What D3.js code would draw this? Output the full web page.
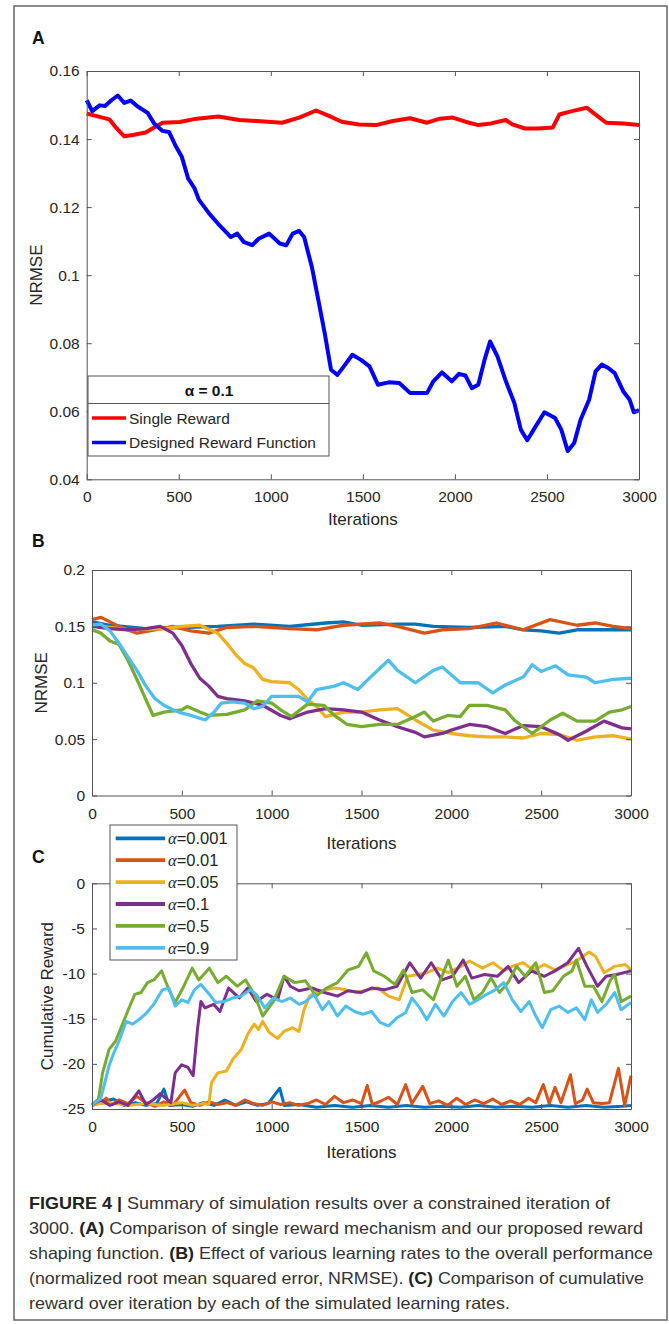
<!DOCTYPE html>
<html>
<head>
<meta charset="utf-8">
<script src="https://cdn.jsdelivr.net/npm/d3@7"></script>
<style>
  body { margin: 0; background: #fff; }
  text { font-family: "Liberation Sans", Arial, sans-serif; }
</style>
</head>
<body>
<svg id="fig" width="669" height="1324"></svg>
<script>
// ---- data: [iteration, value] ----
const iterTicks = [0, 500, 1000, 1500, 2000, 2500, 3000];
const nrmseTicksA = [0.04, 0.06, 0.08, 0.1, 0.12, 0.14, 0.16];
const nrmseTicksB = [0, 0.05, 0.1, 0.15, 0.2];
const rewardTicks = [-25, -20, -15, -10, -5, 0];

const singleReward = [[0,0.1475],[65,0.1466],[123,0.1458],[158,0.1434],[204,0.1408],[250,0.1412],[320,0.1419],[366,0.1434],[412,0.1448],[505,0.145],[598,0.146],[714,0.1466],[829,0.1456],[922,0.1453],[1061,0.1448],[1154,0.1463],[1246,0.1484],[1316,0.1468],[1385,0.1451],[1478,0.1443],[1571,0.1441],[1663,0.1453],[1756,0.1461],[1849,0.1448],[1918,0.146],[1988,0.1463],[2057,0.1451],[2127,0.1441],[2196,0.1446],[2277,0.1456],[2312,0.1443],[2381,0.1431],[2451,0.1431],[2532,0.1434],[2567,0.1472],[2636,0.1482],[2717,0.1492],[2752,0.1477],[2822,0.1448],[2914,0.1446],[3000,0.1441]];
const designedReward = [[0,0.1514],[30,0.1482],[70,0.1499],[100,0.1497],[134,0.1514],[169,0.1528],[204,0.1506],[239,0.1513],[273,0.1497],[331,0.1477],[366,0.1446],[412,0.1424],[447,0.1421],[482,0.1381],[517,0.1347],[551,0.1284],[586,0.1255],[609,0.1222],[667,0.118],[714,0.1151],[783,0.1112],[818,0.1122],[852,0.1098],[899,0.1088],[934,0.1107],[991,0.1122],[1049,0.1093],[1084,0.1088],[1119,0.1122],[1154,0.113],[1181,0.1112],[1223,0.1024],[1258,0.0927],[1293,0.0829],[1327,0.0722],[1362,0.0707],[1397,0.0732],[1443,0.0766],[1490,0.0751],[1536,0.0732],[1582,0.0678],[1640,0.0685],[1698,0.0683],[1756,0.0654],[1849,0.0654],[1883,0.0688],[1930,0.0714],[1983,0.0688],[2022,0.071],[2057,0.0705],[2092,0.0668],[2127,0.0678],[2161,0.0751],[2191,0.0805],[2231,0.0761],[2277,0.0688],[2323,0.0624],[2358,0.0546],[2393,0.0515],[2428,0.0546],[2486,0.0597],[2544,0.058],[2578,0.0546],[2613,0.0483],[2648,0.0507],[2683,0.0576],[2729,0.0634],[2764,0.0717],[2798,0.0737],[2833,0.0727],[2868,0.0712],[2914,0.0659],[2949,0.0634],[2972,0.0597],[3000,0.0603]];

const rates = ["0.001", "0.01", "0.05", "0.1", "0.5", "0.9"];
const rateColors = ["#0072BD", "#D95319", "#EDB120", "#7E2F8E", "#77AC30", "#4DBEEE"];

const nrmse001 = [[0,0.154],[100,0.151],[300,0.148],[500,0.149],[700,0.150],[900,0.152],[1100,0.150],[1300,0.153],[1400,0.154],[1500,0.151],[1700,0.152],[1800,0.152],[1900,0.150],[2100,0.149],[2300,0.150],[2400,0.147],[2500,0.146],[2600,0.144],[2700,0.147],[2800,0.147],[2900,0.147],[3000,0.147]];
const nrmse01 = [[0,0.156],[50,0.158],[150,0.150],[250,0.144],[350,0.147],[450,0.150],[550,0.146],[650,0.144],[750,0.149],[900,0.150],[1100,0.148],[1250,0.147],[1400,0.151],[1600,0.153],[1700,0.150],[1850,0.144],[1950,0.147],[2100,0.148],[2250,0.153],[2400,0.147],[2550,0.156],[2700,0.151],[2800,0.153],[2900,0.150],[3000,0.148]];
const nrmse05 = [[0,0.151],[200,0.147],[400,0.148],[500,0.150],[600,0.151],[700,0.144],[750,0.135],[800,0.125],[850,0.117],[900,0.113],[950,0.103],[1000,0.101],[1100,0.100],[1150,0.094],[1200,0.085],[1250,0.079],[1300,0.070],[1400,0.074],[1500,0.074],[1600,0.076],[1700,0.077],[1800,0.067],[1900,0.058],[2000,0.055],[2100,0.053],[2200,0.052],[2300,0.052],[2400,0.051],[2500,0.055],[2600,0.054],[2700,0.049],[2800,0.052],[2900,0.053],[3000,0.050]];
const nrmse1 = [[0,0.150],[100,0.148],[200,0.147],[300,0.148],[380,0.150],[450,0.144],[500,0.133],[550,0.117],[600,0.104],[650,0.097],[700,0.088],[750,0.086],[850,0.084],[950,0.080],[1050,0.071],[1100,0.068],[1200,0.074],[1300,0.077],[1400,0.076],[1500,0.074],[1600,0.067],[1700,0.061],[1800,0.056],[1850,0.052],[1950,0.055],[2000,0.058],[2100,0.063],[2200,0.061],[2300,0.055],[2400,0.062],[2500,0.061],[2600,0.054],[2650,0.049],[2750,0.057],[2850,0.066],[2950,0.060],[3000,0.059]];
const nrmse5 = [[0,0.147],[50,0.144],[100,0.137],[150,0.134],[200,0.120],[250,0.103],[300,0.085],[340,0.071],[400,0.074],[500,0.076],[530,0.079],[600,0.074],[650,0.071],[750,0.072],[850,0.076],[920,0.084],[1000,0.082],[1050,0.076],[1110,0.070],[1200,0.081],[1290,0.080],[1350,0.071],[1420,0.063],[1500,0.061],[1600,0.063],[1700,0.063],[1800,0.070],[1850,0.074],[1900,0.066],[1980,0.071],[2050,0.070],[2100,0.080],[2200,0.080],[2300,0.076],[2350,0.067],[2450,0.055],[2500,0.061],[2550,0.067],[2620,0.073],[2700,0.066],[2800,0.066],[2880,0.074],[2950,0.076],[3000,0.079]];
const nrmse9 = [[0,0.151],[50,0.152],[100,0.146],[150,0.135],[200,0.123],[250,0.111],[300,0.097],[350,0.086],[400,0.080],[450,0.076],[500,0.073],[550,0.071],[630,0.067],[680,0.074],[720,0.082],[780,0.083],[850,0.082],[900,0.077],[950,0.079],[1000,0.088],[1100,0.088],[1150,0.088],[1200,0.083],[1250,0.094],[1350,0.097],[1400,0.100],[1480,0.094],[1550,0.105],[1650,0.120],[1700,0.111],[1800,0.100],[1900,0.111],[1950,0.114],[2050,0.100],[2150,0.100],[2230,0.091],[2300,0.098],[2400,0.105],[2450,0.116],[2500,0.110],[2580,0.115],[2650,0.107],[2750,0.105],[2800,0.100],[2900,0.103],[3000,0.104]];

const reward001 = [[0,-24.6],[60,-24.2],[120,-23.9],[180,-24.6],[240,-24.3],[300,-24.6],[360,-24.4],[400,-22.8],[430,-24.6],[500,-24.5],[560,-24.7],[620,-24.3],[680,-24.6],[740,-24.0],[800,-24.6],[860,-24.2],[920,-24.6],[980,-24.4],[1045,-22.7],[1070,-24.6],[1150,-24.5],[1250,-24.8],[1350,-24.6],[1450,-24.8],[1550,-24.6],[1650,-24.8],[1750,-24.6],[1850,-24.8],[1950,-24.7],[2050,-24.8],[2150,-24.6],[2250,-24.8],[2350,-24.7],[2450,-24.8],[2550,-24.6],[2650,-24.8],[2750,-24.6],[2850,-24.8],[2950,-24.7],[3000,-24.6]];
const reward01 = [[0,-24.6],[50,-24.3],[80,-23.8],[110,-24.5],[150,-24.0],[200,-24.4],[250,-23.6],[300,-24.3],[350,-24.7],[400,-24.2],[450,-24.6],[515,-22.9],[550,-24.3],[600,-24.6],[650,-24.2],[700,-24.5],[750,-24.3],[800,-24.6],[850,-24.0],[900,-24.4],[950,-24.6],[1000,-24.2],[1050,-24.5],[1100,-24.3],[1150,-24.6],[1200,-24.4],[1250,-24.0],[1300,-24.5],[1350,-23.6],[1400,-24.3],[1450,-24.0],[1500,-24.4],[1532,-22.4],[1560,-24.5],[1600,-24.2],[1650,-23.7],[1700,-24.5],[1746,-22.3],[1780,-24.4],[1841,-22.5],[1880,-24.4],[1930,-24.1],[1980,-24.6],[2030,-23.8],[2080,-24.5],[2130,-24.0],[2180,-24.4],[2230,-23.9],[2280,-24.5],[2330,-24.1],[2380,-24.5],[2430,-23.8],[2470,-24.3],[2512,-22.3],[2545,-24.4],[2577,-22.6],[2610,-24.3],[2663,-21.2],[2690,-24.4],[2730,-24.0],[2756,-22.8],[2790,-24.3],[2840,-24.4],[2880,-24.3],[2930,-20.5],[2965,-24.6],[3000,-21.3]];
const reward05 = [[0,-24.5],[100,-24.3],[200,-24.6],[300,-24.4],[400,-24.6],[500,-24.3],[560,-24.6],[620,-24.4],[650,-24.5],[665,-22.1],[700,-21.0],[748,-20.8],[784,-19.5],[831,-18.4],[867,-16.7],[903,-15.6],[926,-16.2],[950,-15.3],[986,-16.5],[1033,-17.2],[1069,-16.4],[1116,-16.0],[1152,-16.4],[1180,-14.0],[1211,-12.5],[1247,-12.1],[1294,-11.8],[1354,-11.6],[1413,-11.8],[1472,-12.1],[1532,-11.8],[1591,-11.6],[1650,-12.5],[1710,-12.9],[1757,-10.3],[1817,-10.1],[1864,-9.9],[1924,-9.4],[1983,-9.9],[2054,-9.2],[2102,-8.6],[2173,-9.4],[2232,-8.8],[2292,-9.7],[2339,-9.2],[2399,-8.8],[2458,-9.6],[2518,-9.0],[2577,-9.6],[2624,-9.2],[2696,-8.6],[2767,-7.6],[2803,-8.1],[2850,-9.9],[2909,-9.2],[2969,-9.0],[3000,-9.6]];
const reward1 = [[0,-24.5],[50,-24.0],[100,-24.6],[150,-24.2],[200,-24.6],[261,-23.0],[300,-24.5],[340,-24.0],[380,-23.3],[439,-24.3],[463,-21.0],[499,-20.1],[534,-20.4],[563,-21.3],[587,-16.2],[606,-13.1],[629,-13.8],[677,-13.4],[712,-14.2],[760,-11.6],[819,-12.7],[867,-11.6],[914,-13.1],[974,-12.3],[1033,-12.9],[1069,-10.3],[1104,-11.4],[1152,-11.9],[1223,-11.6],[1294,-12.1],[1366,-12.5],[1425,-11.9],[1496,-12.1],[1556,-11.6],[1627,-11.8],[1698,-11.4],[1769,-8.8],[1829,-10.5],[1888,-8.8],[1948,-10.7],[2007,-10.3],[2066,-8.5],[2114,-10.5],[2185,-10.1],[2256,-10.3],[2316,-9.2],[2375,-11.0],[2446,-9.7],[2518,-10.3],[2577,-9.7],[2648,-8.8],[2708,-7.2],[2755,-9.2],[2814,-11.4],[2862,-10.3],[2921,-10.1],[3000,-9.7]];
const reward5 = [[0,-24.5],[36,-23.9],[59,-21.0],[95,-18.4],[131,-17.5],[166,-15.8],[202,-14.0],[238,-12.3],[273,-12.1],[309,-11.0],[344,-10.7],[387,-9.7],[428,-11.8],[463,-13.2],[511,-11.4],[558,-9.4],[594,-10.7],[653,-9.4],[701,-11.0],[748,-10.3],[808,-11.4],[855,-10.7],[903,-12.3],[950,-14.7],[1009,-13.1],[1069,-10.3],[1128,-11.0],[1188,-10.8],[1247,-12.5],[1306,-11.6],[1366,-11.0],[1425,-9.6],[1484,-9.2],[1527,-7.7],[1568,-9.7],[1627,-10.3],[1686,-11.2],[1734,-9.6],[1781,-12.1],[1841,-11.8],[1900,-12.9],[1948,-10.3],[1983,-8.5],[2031,-11.4],[2078,-10.3],[2126,-12.9],[2173,-12.1],[2221,-10.5],[2268,-12.1],[2316,-11.0],[2363,-9.2],[2411,-10.3],[2470,-8.8],[2518,-12.1],[2565,-11.9],[2624,-10.3],[2672,-9.7],[2696,-8.5],[2743,-11.4],[2791,-11.4],[2838,-13.1],[2886,-10.7],[2909,-10.1],[2945,-13.1],[3000,-12.5]];
const reward9 = [[0,-24.5],[48,-23.9],[71,-22.1],[95,-20.2],[119,-18.9],[154,-17.3],[190,-15.3],[226,-15.6],[261,-15.1],[297,-14.5],[344,-13.4],[392,-11.8],[428,-11.6],[463,-13.6],[499,-12.9],[534,-13.2],[570,-11.8],[606,-11.2],[653,-12.3],[689,-13.2],[736,-13.1],[784,-12.7],[831,-12.5],[879,-11.8],[914,-12.3],[962,-13.8],[1009,-12.7],[1057,-13.1],[1104,-12.7],[1152,-13.4],[1188,-13.1],[1235,-12.3],[1283,-14.0],[1318,-13.1],[1366,-14.7],[1413,-13.6],[1461,-14.2],[1508,-14.5],[1556,-14.2],[1603,-15.4],[1650,-15.8],[1698,-14.9],[1746,-14.3],[1781,-12.7],[1817,-13.6],[1864,-15.1],[1912,-13.4],[1959,-14.7],[2007,-13.1],[2054,-12.1],[2102,-13.4],[2149,-12.9],[2197,-12.3],[2244,-11.8],[2292,-11.0],[2339,-12.9],[2387,-14.2],[2434,-13.1],[2470,-14.7],[2506,-16.0],[2553,-14.0],[2601,-13.6],[2648,-14.3],[2696,-13.8],[2743,-15.1],[2779,-12.9],[2814,-14.3],[2862,-13.4],[2909,-12.1],[2945,-14.0],[3000,-13.2]];

const nrmseSeries = [nrmse001, nrmse01, nrmse05, nrmse1, nrmse5, nrmse9];
const rewardSeries = [reward001, reward01, reward05, reward1, reward5, reward9];

const captionLines = [
  [["FIGURE 4 | ", true], ["Summary of simulation results over a constrained iteration of", false]],
  [["3000. ", false], ["(A)", true], [" Comparison of single reward mechanism and our proposed reward", false]],
  [["shaping function. ", false], ["(B)", true], [" Effect of various learning rates to the overall performance", false]],
  [["(normalized root mean squared error, NRMSE). ", false], ["(C)", true], [" Comparison of cumulative", false]],
  [["reward over iteration by each of the simulated learning rates.", false]]
];
const captionWidths = [581, 614, 624, 615, 481];

// ---- drawing ----
const svg = d3.select('#fig');
const AXIS = '#555';
const INK = '#262626';

svg.append('rect').attr('x', 14).attr('y', 6).attr('width', 653).attr('height', 1314)
  .attr('fill', '#fff').attr('stroke', '#666').attr('stroke-width', 1.5);

function drawPanel(opt) {
  const x = d3.scaleLinear().domain([0, 3000]).range([opt.left, opt.right]);
  const y = d3.scaleLinear().domain(opt.yDomain).range([opt.bottom, opt.top]);
  const g = svg.append('g');

  const line = d3.line().x(d => x(d[0])).y(d => y(d[1]));
  opt.series.forEach((s, i) => {
    g.append('path').datum(s).attr('d', line)
      .attr('fill', 'none').attr('stroke', opt.colors[i])
      .attr('stroke-width', opt.lineWidth).attr('stroke-linejoin', 'round');
  });

  const fmt = d => String(d);
  g.append('g').attr('transform', `translate(0,${opt.bottom})`)
    .call(d3.axisBottom(x).tickValues(iterTicks).tickFormat(fmt).tickSizeInner(-5).tickSizeOuter(0).tickPadding(opt.xPad));
  g.append('g').attr('transform', `translate(0,${opt.top})`)
    .call(d3.axisTop(x).tickValues(iterTicks).tickFormat('').tickSizeInner(-5).tickSizeOuter(0));
  g.append('g').attr('transform', `translate(${opt.left},0)`)
    .call(d3.axisLeft(y).tickValues(opt.yTicks).tickFormat(fmt).tickSizeInner(-5).tickSizeOuter(0).tickPadding(opt.yPad));
  g.append('g').attr('transform', `translate(${opt.right},0)`)
    .call(d3.axisRight(y).tickValues(opt.yTicks).tickFormat('').tickSizeInner(-5).tickSizeOuter(0));

  g.selectAll('.domain, .tick line').attr('stroke', AXIS).attr('stroke-width', 1);
  g.selectAll('.tick text').attr('fill', INK).style('font-size', '15.5px')
    .style('font-family', '"Liberation Sans", Arial, sans-serif');

  // x label
  g.append('text').attr('x', (opt.left + opt.right) / 2).attr('y', opt.xLabelY)
    .attr('text-anchor', 'middle').attr('fill', INK).style('font-size', '17px').text('Iterations');
  // y label
  g.append('text').attr('transform', `translate(${opt.yLabelX},${(opt.top + opt.bottom) / 2}) rotate(-90)`)
    .attr('text-anchor', 'middle').attr('fill', INK).style('font-size', '17px').text(opt.yLabel);
  // panel letter
  svg.append('text').attr('x', 32).attr('y', opt.letterY).attr('fill', '#111')
    .style('font-size', '17.5px').style('font-weight', 'bold').text(opt.letter);
  return { x, y, g };
}

// Panel A
drawPanel({
  letter: 'A', letterY: 44,
  left: 86.7, right: 639, top: 71, bottom: 479.3,
  yDomain: [0.04, 0.16], yTicks: nrmseTicksA,
  series: [singleReward, designedReward], colors: ['#ff0000', '#0000ff'], lineWidth: 4,
  xPad: 11.5, yPad: 7, xLabelY: 525, yLabelX: 42, yLabel: 'NRMSE'
});

// Legend A
const legA = svg.append('g');
legA.append('rect').attr('x', 88).attr('y', 376).attr('width', 241).attr('height', 80)
  .attr('fill', '#fff').attr('stroke', AXIS).attr('stroke-width', 1);
legA.append('line').attr('x1', 88).attr('x2', 329).attr('y1', 403.5).attr('y2', 403.5)
  .attr('stroke', AXIS).attr('stroke-width', 1);
legA.append('text').attr('x', 209).attr('y', 396).attr('text-anchor', 'middle')
  .attr('fill', '#111').style('font-size', '15.5px').style('font-weight', 'bold').text('α = 0.1');
[['Single Reward', '#ff0000', 418], ['Designed Reward Function', '#0000ff', 442.5]].forEach(([label, c, yy]) => {
  legA.append('line').attr('x1', 92).attr('x2', 126).attr('y1', yy).attr('y2', yy)
    .attr('stroke', c).attr('stroke-width', 3.5);
  legA.append('text').attr('x', 129).attr('y', yy + 5.5).attr('fill', INK)
    .style('font-size', '15.5px').text(label);
});

// Panel B
drawPanel({
  letter: 'B', letterY: 546.7,
  left: 92, right: 631, top: 570, bottom: 795.5,
  yDomain: [0, 0.2], yTicks: nrmseTicksB,
  series: nrmseSeries, colors: rateColors, lineWidth: 3.3,
  xPad: 12, yPad: 7, xLabelY: 849, yLabelX: 47, yLabel: 'NRMSE'
});

// Panel C
drawPanel({
  letter: 'C', letterY: 863.3,
  left: 92, right: 631, top: 883.3, bottom: 1109,
  yDomain: [-25, 0], yTicks: rewardTicks,
  series: rewardSeries, colors: rateColors, lineWidth: 3,
  xPad: 12, yPad: 7, xLabelY: 1158, yLabelX: 53, yLabel: 'Cumulative Reward'
});

// Legend C
const legC = svg.append('g');
legC.append('rect').attr('x', 110).attr('y', 825).attr('width', 127).attr('height', 135)
  .attr('fill', '#fff').attr('stroke', AXIS).attr('stroke-width', 1);
rates.forEach((r, i) => {
  const yy = 838.3 + i * 21.9;
  legC.append('line').attr('x1', 115.7).attr('x2', 165).attr('y1', yy).attr('y2', yy)
    .attr('stroke', rateColors[i]).attr('stroke-width', 3.8);
  const t = legC.append('text').attr('x', 168).attr('y', yy + 6).attr('fill', INK).style('font-size', '16.5px');
  t.append('tspan').style('font-family', '"Liberation Serif", "Times New Roman", serif')
    .style('font-style', 'italic').text('α');
  t.append('tspan').text('=' + r);
});

// Caption
captionLines.forEach((parts, i) => {
  const t = svg.append('text').attr('x', 29).attr('y', 1209 + i * 25)
    .attr('fill', '#333').style('font-size', '16.5px')
    .attr('textLength', captionWidths[i]).attr('lengthAdjust', 'spacingAndGlyphs');
  parts.forEach(([s, bold]) => {
    t.append('tspan').style('font-weight', bold ? 'bold' : 'normal')
      .attr('fill', bold ? '#222' : '#333').text(s);
  });
});
</script>
</body>
</html>
